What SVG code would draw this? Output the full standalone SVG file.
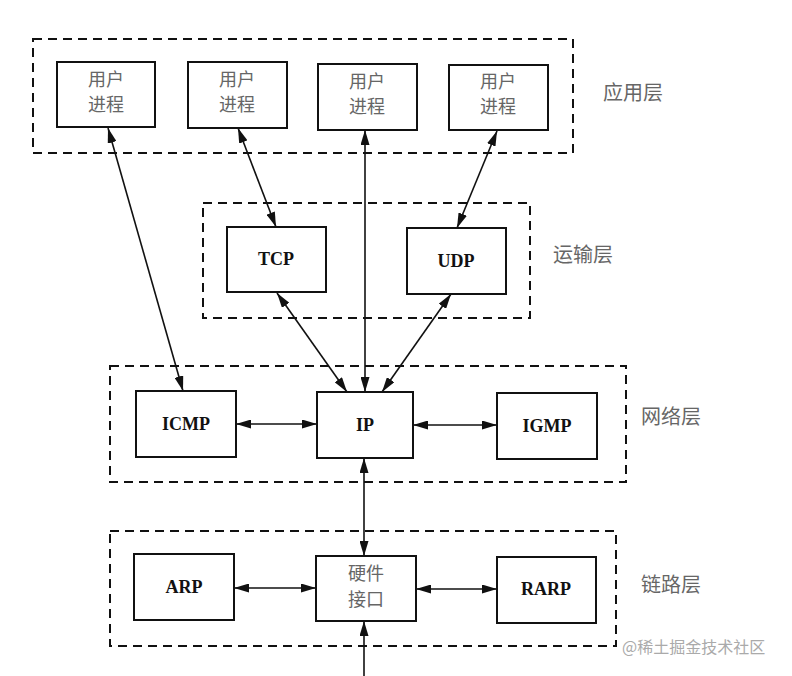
<svg xmlns="http://www.w3.org/2000/svg" width="792" height="676" viewBox="0 0 792 676">
<style>
.layer{fill:none;stroke:#111;stroke-width:2;stroke-dasharray:9 6}
.box{fill:#fff;stroke:#111;stroke-width:2}
.cn{font-family:"Noto Sans CJK SC","Noto Sans",sans-serif;font-size:18px;fill:#666;text-anchor:middle}
.lbl{font-family:"Noto Sans CJK SC","Noto Sans",sans-serif;font-size:20px;fill:#666}
.en{font-family:"Liberation Serif","Times New Roman",serif;font-size:18px;font-weight:bold;fill:#111;text-anchor:middle}
.wm{font-family:"Noto Sans CJK SC","Noto Sans",sans-serif;font-size:16px;fill:#aaa}
.c{stroke:#111;stroke-width:1.6;fill:none;marker-start:url(#ah);marker-end:url(#ah)}
.c1{stroke:#111;stroke-width:1.6;fill:none;marker-end:url(#ah)}
</style>
<defs>
<marker id="ah" viewBox="0 0 15 9" refX="15" refY="4.5" markerWidth="15" markerHeight="9" markerUnits="userSpaceOnUse" orient="auto-start-reverse">
<path d="M0,0 L15,4.5 L0,9 z" fill="#111"/>
</marker>
</defs>
<rect width="792" height="676" fill="#fff"/>
<g id="layers">
<rect id="app-layer" class="layer" x="33" y="39" width="540" height="114"/>
<rect id="transport-layer" class="layer" x="203" y="203" width="327" height="115"/>
<rect id="network-layer" class="layer" x="110" y="366" width="516" height="116"/>
<rect id="link-layer" class="layer" x="110" y="531" width="506" height="115"/>
</g>
<g id="labels">
<text class="lbl" x="603" y="100">应用层</text>
<text class="lbl" x="553" y="262">运输层</text>
<text class="lbl" x="641" y="424">网络层</text>
<text class="lbl" x="641" y="592">链路层</text>
</g>
<g id="connectors">
<line class="c" x1="108" y1="128" x2="183" y2="391"/>
<line class="c" x1="238" y1="128" x2="276" y2="227"/>
<line class="c" x1="497" y1="131" x2="457" y2="228"/>
<line class="c" x1="365" y1="130" x2="365" y2="392"/>
<line class="c" x1="277" y1="293" x2="347" y2="392"/>
<line class="c" x1="451" y1="294" x2="382" y2="392"/>
<line class="c" x1="236" y1="424" x2="317" y2="424"/>
<line class="c" x1="413" y1="425" x2="497" y2="425"/>
<line class="c" x1="364" y1="458" x2="364" y2="556"/>
<line class="c" x1="234" y1="588" x2="316" y2="588"/>
<line class="c" x1="416" y1="589" x2="497" y2="589"/>
<line class="c1" x1="364" y1="676" x2="364" y2="621"/>
</g>
<g id="user1"><rect class="box" x="57" y="62" width="98" height="65"/><text class="cn" x="106" y="86">用户</text><text class="cn" x="106" y="111">进程</text></g>
<g id="user2"><rect class="box" x="188" y="62" width="99" height="66"/><text class="cn" x="237" y="86">用户</text><text class="cn" x="237" y="111">进程</text></g>
<g id="user3"><rect class="box" x="318" y="64" width="99" height="66"/><text class="cn" x="367" y="88">用户</text><text class="cn" x="367" y="113">进程</text></g>
<g id="user4"><rect class="box" x="449" y="65" width="99" height="65"/><text class="cn" x="498" y="88">用户</text><text class="cn" x="498" y="113">进程</text></g>
<g id="tcp"><rect class="box" x="227" y="227" width="99" height="65"/><text class="en" x="276" y="265">TCP</text></g>
<g id="udp"><rect class="box" x="407" y="228" width="99" height="66"/><text class="en" x="456" y="267">UDP</text></g>
<g id="icmp"><rect class="box" x="136" y="391" width="100" height="66"/><text class="en" x="186" y="430">ICMP</text></g>
<g id="ip"><rect class="box" x="317" y="392" width="96" height="66"/><text class="en" x="365" y="431">IP</text></g>
<g id="igmp"><rect class="box" x="497" y="393" width="100" height="66"/><text class="en" x="547" y="432">IGMP</text></g>
<g id="arp"><rect class="box" x="134" y="554" width="100" height="66"/><text class="en" x="184" y="593">ARP</text></g>
<g id="hw"><rect class="box" x="316" y="556" width="100" height="65"/><text class="cn" x="366" y="580">硬件</text><text class="cn" x="366" y="606">接口</text></g>
<g id="rarp"><rect class="box" x="497" y="557" width="99" height="66"/><text class="en" x="546" y="595">RARP</text></g>
<text class="wm" x="622" y="653">@稀土掘金技术社区</text>
</svg>
